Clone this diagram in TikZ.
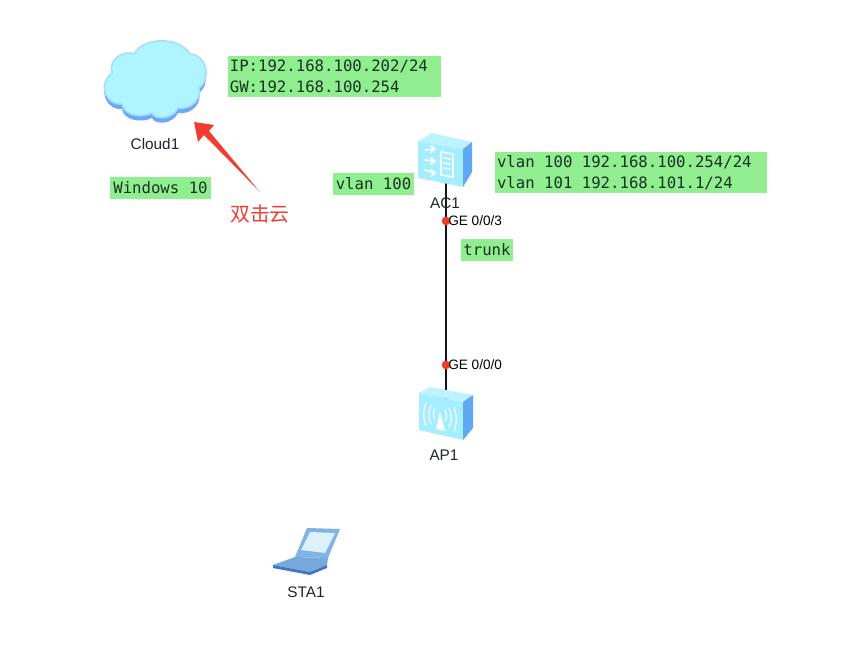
\documentclass[tikz,border=0pt]{standalone}
\usepackage{fontspec}
\setmainfont{Liberation Sans}
\newfontfamily\boxmono{DejaVu Sans Mono}
\newfontfamily\cjkfont{Noto Sans CJK SC}
\definecolor{boxgreen}{HTML}{90EE90}
\definecolor{boxink}{HTML}{17331F}
\definecolor{iconfront}{HTML}{A4EEFF}
\definecolor{icontop}{HTML}{BDF3FF}
\definecolor{iconside}{HTML}{5FA8F4}
\definecolor{cloudfill}{HTML}{AEF5FF}
\definecolor{cloudrim}{HTML}{A5DCFF}
\definecolor{cloudshade}{HTML}{6CA9F6}
\definecolor{notered}{HTML}{F23C32}
\definecolor{devlabel}{HTML}{20262C}
\definecolor{lapframe}{HTML}{7FB4E6}
\definecolor{lapscreen}{HTML}{DDF1FB}
\definecolor{lapbase}{HTML}{77A9DE}
\definecolor{lapedge}{HTML}{3F78C2}
\tikzset{
  monobox/.style={fill=boxgreen,text=boxink,inner sep=0pt,align=left,
    font=\boxmono\fontsize{11.75}{15.75}\selectfont},
  devname/.style={text=devlabel,inner sep=0pt,font=\fontsize{11.5}{13}\selectfont},
  portname/.style={text=black,inner sep=0pt,anchor=west,font=\fontsize{10.2}{12}\selectfont},
  portdot/.style={circle,fill=notered,inner sep=0pt,minimum size=6.5pt},
  link/.style={draw=black!92,line width=2.2pt},
  glyph/.style={draw=white,line width=1.3pt,line cap=round,line join=round,opacity=.92}
}
\newcommand{\cloudpath}{(112,73) .. controls (108,58) and (125,50) .. (134,54)
 .. controls (142,38) and (178,35) .. (190,54)
 .. controls (206,54) and (212,78) .. (199,88)
 .. controls (202,98) and (192,110) .. (178,108)
 .. controls (172,120) and (155,120) .. (152,113)
 .. controls (142,118) and (124,116) .. (122,104)
 .. controls (108,106) and (96,86) .. (112,73) -- cycle}
\begin{document}
\begin{tikzpicture}[x=.75pt,y=-.75pt]
\useasboundingbox[fill=white] (0,0) rectangle (843,648);
\coordinate (ac1) at (446,165);
\coordinate (ap1) at (446,415);
\draw[link] (ac1) -- (ap1);
% cloud
\fill[cloudshade,yshift=-3.75pt] \cloudpath;
\fill[cloudfill,draw=cloudrim,line width=1.2pt] \cloudpath;
\node[devname] (cloudname) at (155,144) {Cloud1};
% AC1
\fill[iconfront] (418,141) -- (463,149) -- (463,187) -- (418,178) -- cycle;
\fill[icontop] (418,141) -- (432,133) -- (472,142) -- (463,149) -- cycle;
\fill[iconside] (463,149) -- (472,142) -- (472,172) -- (463,187) -- cycle;
\draw[glyph] (425,150) -- (434,149) (431,146) -- (435,149) -- (431,152)
  (425,160) -- (434,161) (431,158) -- (435,161) -- (431,164)
  (425,170) -- (434,173) (431,170) -- (435,173) -- (431,176);
\draw[glyph] (441,152) -- (453,154) -- (453,177) -- (441,175) -- cycle
  (444,158) -- (450,159) (444,163) -- (450,164) (444,168) -- (450,169);
\node[devname] (acname) at (445,203) {AC1};
% AP1
\fill[iconfront] (419,393) -- (463,402) -- (463,440) -- (419,430) -- cycle;
\fill[icontop] (419,393) -- (430,387) -- (473,395) -- (463,402) -- cycle;
\fill[iconside] (463,402) -- (473,395) -- (473,428) -- (463,440) -- cycle;
\fill[white,opacity=.95] (440,411) -- (445,431) -- (436,429) -- cycle;
\draw[glyph,line width=.9pt] (435,408) .. controls (433,412) and (433,416) .. (435,420)
  (431,405) .. controls (428,411) and (428,418) .. (431,424)
  (426,403) .. controls (423,410) and (423,419) .. (426,426)
  (445,410) .. controls (447,414) and (447,418) .. (445,422)
  (449,408) .. controls (452,414) and (452,421) .. (449,427)
  (454,408) .. controls (457,415) and (457,424) .. (454,431);
\node[devname] (apname) at (444,455) {AP1};
% STA1
\fill[lapframe] (307,528) -- (340,529) -- (328,558) -- (295,557) -- cycle;
\fill[lapscreen] (310,532) -- (335,533) -- (325,553) -- (301,550) -- cycle;
\fill[lapbase] (295,557) -- (328,558) -- (327,565) -- (310,572) -- (273,565) -- cycle;
\fill[lapedge] (273,565) -- (310,572) -- (327,565) -- (327,568) -- (310,575) -- (273,568) -- cycle;
\node[devname] (staname) at (306,592) {STA1};
% ports
\node[portdot] (port3) at (446,221) {};
\node[portdot] (port0) at (446,365) {};
\node[portname] (port3name) at (448,221) {GE 0/0/3};
\node[portname] (port0name) at (448,365) {GE 0/0/0};
% green labels
\node[monobox,minimum width=213*.75pt,minimum height=41*.75pt] (ipbox) at (334.5,76.5)
  {\makebox[157pt][l]{IP:192.168.100.202/24}\\\makebox[157pt][l]{GW:192.168.100.254}};
\node[monobox,minimum width=272*.75pt,minimum height=41*.75pt] (vlanbox) at (631,172.5)
  {\makebox[201pt][l]{vlan 100 192.168.100.254/24}\\\makebox[201pt][l]{vlan 101 192.168.101.1/24}};
\node[monobox,minimum width=101*.75pt,minimum height=22*.75pt,align=center] (winbox) at (160.5,188) {Windows 10};
\node[monobox,minimum width=81*.75pt,minimum height=22*.75pt,align=center] (acvlan) at (373.5,184) {vlan 100};
\node[monobox,minimum width=52*.75pt,minimum height=22*.75pt,align=center] (trunkbox) at (487,250) {trunk};
% annotation
\coordinate (arrowtail) at (260,192);
\coordinate (arrowtip) at (194,122);
\fill[notered] (arrowtail) -- (209,131) -- (214,125) -- (arrowtip) -- (198,142) -- (204,135) -- cycle;
\node[text=notered,inner sep=0pt,font=\cjkfont\fontsize{14.9}{16}\selectfont] (note) at (260,214) {双击云};
\end{tikzpicture}
\end{document}
